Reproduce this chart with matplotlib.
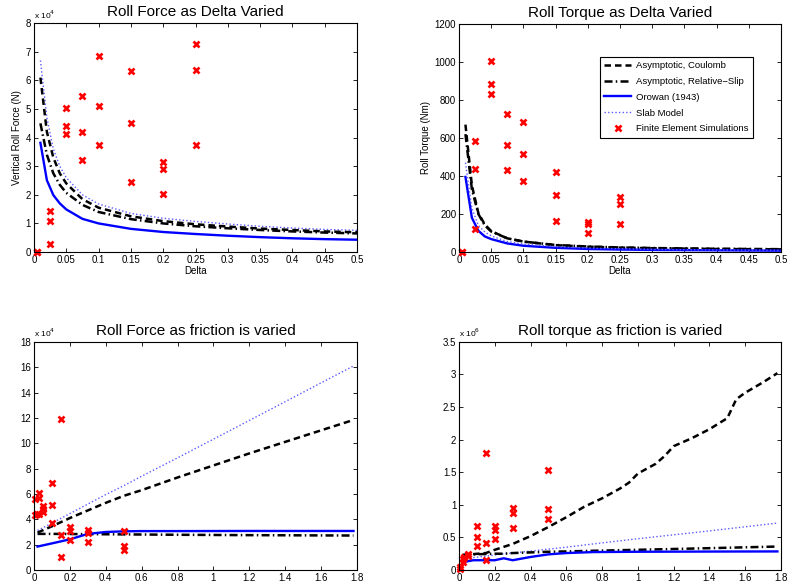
import matplotlib
matplotlib.use("Agg")
import matplotlib.pyplot as plt
from matplotlib.ticker import FuncFormatter

plt.rcParams['font.family'] = ['Liberation Sans', 'DejaVu Sans']

# --- data: roll force / torque as delta varied ---
delta = [0.01, 0.02, 0.03, 0.04, 0.05, 0.075, 0.1, 0.15, 0.2, 0.25, 0.3, 0.35, 0.4, 0.45, 0.5]
force_coulomb = [6.1, 4.2, 3.3, 2.75, 2.4, 1.85, 1.55, 1.25, 1.08, 0.97, 0.89, 0.82, 0.77, 0.72, 0.69]
force_relslip = [4.5, 3.4, 2.75, 2.35, 2.07, 1.65, 1.4, 1.15, 1.0, 0.9, 0.83, 0.77, 0.72, 0.68, 0.65]
force_orowan = [3.82, 2.51, 1.99, 1.7, 1.49, 1.16, 1.0, 0.81, 0.7, 0.63, 0.57, 0.52, 0.48, 0.45, 0.43]
force_slab = [6.7, 4.7, 3.6, 3.0, 2.6, 2.0, 1.68, 1.35, 1.18, 1.07, 0.98, 0.9, 0.84, 0.79, 0.76]

torque_coulomb = [670, 350, 205, 145, 110, 72, 55, 36, 28, 23, 20, 18, 16, 15, 14]
torque_relslip = [620, 330, 200, 140, 108, 72, 55, 37, 29, 24, 21, 19, 17, 16, 15]
torque_orowan = [395, 180, 112, 82, 68, 45, 33, 22, 16, 13, 11, 10, 9, 8, 7]
torque_slab = [470, 230, 140, 105, 85, 55, 42, 28, 21, 17, 14, 12, 11, 10, 9]

fe_delta = [0.005, 0.005, 0.025, 0.025, 0.025, 0.05, 0.05, 0.05, 0.075, 0.075, 0.075,
            0.1, 0.1, 0.1, 0.15, 0.15, 0.15, 0.2, 0.2, 0.2, 0.25, 0.25, 0.25]
fe_force_delta = [0, 0, 1.44, 1.08, 0.29, 5.02, 4.4, 4.14, 5.44, 4.21, 3.22,
                  6.85, 5.12, 3.73, 6.33, 4.5, 2.46, 3.15, 2.92, 2.03, 7.26, 6.38, 3.73]
fe_torque_delta = [0, 0, 584, 435, 119, 1007, 884, 833, 725, 563, 430,
                   686, 514, 374, 421, 302, 163, 158, 148, 100, 289, 253, 146]

# --- data: roll force / torque as friction varied ---
fric_bl = [0.02, 0.1, 0.2, 0.3, 0.4, 0.5, 0.6, 0.8, 1.2, 1.78]
fforce_coulomb = [2.95, 3.45, 4.1, 4.7, 5.3, 5.85, 6.3, 7.3, 9.2, 11.84]
fforce_relslip = [2.85, 2.85, 2.84, 2.83, 2.82, 2.81, 2.8, 2.78, 2.75, 2.72]
fforce_orowan = [1.85, 2.1, 2.42, 2.85, 3.0, 3.05, 3.07, 3.07, 3.08, 3.08]
fforce_slab = [3.12, 3.7, 4.45, 5.2, 5.95, 6.65, 7.4, 8.85, 11.8, 16.1]

fric_coul_t = [0.02, 0.15, 0.2, 0.3, 0.4, 0.5, 0.6, 0.7, 0.8, 0.9, 0.95, 1.0, 1.1,
               1.15, 1.2, 1.3, 1.4, 1.5, 1.55, 1.6, 1.7, 1.78]
ftorque_coulomb = [0.23, 0.26, 0.31, 0.4, 0.52, 0.66, 0.81, 0.97, 1.1, 1.25, 1.34, 1.48, 1.63,
                   1.75, 1.9, 2.02, 2.16, 2.33, 2.62, 2.72, 2.88, 3.02]
fric_t = [0.02, 0.08, 0.2, 0.25, 0.3, 0.4, 0.5, 0.6, 0.75, 1.0, 1.4, 1.78]
ftorque_relslip = [0.23, 0.24, 0.25, 0.25, 0.26, 0.27, 0.28, 0.285, 0.295, 0.31, 0.335, 0.36]
ftorque_orowan = [0.12, 0.15, 0.15, 0.18, 0.15, 0.2, 0.24, 0.26, 0.275, 0.28, 0.283, 0.285]
ftorque_slab = [0.17, 0.19, 0.23, 0.25, 0.26, 0.29, 0.32, 0.35, 0.4, 0.48, 0.6, 0.72]

fe_fric = [0.005, 0.005, 0.015, 0.03, 0.03, 0.03, 0.05, 0.05, 0.05, 0.1, 0.1, 0.1,
           0.15, 0.15, 0.15, 0.2, 0.2, 0.2, 0.3, 0.3, 0.3, 0.5, 0.5, 0.5]
fe_force_fric = [5.62, 4.35, 4.42, 6.05, 5.72, 4.45, 5.08, 4.85, 4.55, 6.85, 5.12, 3.72,
                 11.9, 2.8, 1.05, 3.4, 3.1, 2.38, 3.18, 2.95, 2.18, 3.07, 1.88, 1.58]
fe_fric_t = [0.005, 0.005, 0.025, 0.025, 0.03, 0.05, 0.05, 0.1, 0.1, 0.1, 0.15, 0.15, 0.15,
             0.2, 0.2, 0.2, 0.3, 0.3, 0.3, 0.5, 0.5, 0.5]
fe_torque_fric = [0.05, 0.02, 0.13, 0.17, 0.2, 0.25, 0.22, 0.68, 0.51, 0.37, 1.79, 0.42, 0.15,
                  0.68, 0.61, 0.47, 0.95, 0.88, 0.64, 1.54, 0.94, 0.79]

labels = ["Asymptotic, Coulomb", "Asymptotic, Relative\u2212Slip", "Orowan (1943)",
          "Slab Model", "Finite Element Simulations"]

# --- styles (MATLAB-ish) ---
st_coul = dict(color='black', lw=1.8, linestyle=(0, (2.6, 1.6)))
st_rel = dict(color='black', lw=1.8, linestyle=(0, (3.2, 1.3, 0.6, 1.3)))
st_oro = dict(color='#0000ff', lw=1.7, linestyle='-')
st_slab = dict(color='#5a5aff', lw=1.0, linestyle=(0, (1, 1.6)))
st_fe = dict(color='red', linestyle='none', marker='x', ms=4.5, mew=1.9)

fig = plt.figure(figsize=(7.88, 5.88), dpi=100)
ax_tl = fig.add_axes([0.0431, 0.5714, 0.41, 0.389])
ax_tr = fig.add_axes([0.5825, 0.5714, 0.4086, 0.388])
ax_bl = fig.add_axes([0.0431, 0.0306, 0.41, 0.388])
ax_br = fig.add_axes([0.5825, 0.0306, 0.4086, 0.388])

fmt = FuncFormatter(lambda v, p: "%g" % round(v, 6))


def style_axes(ax, title, xticks, yticks, xlim, ylim, scale=None):
    ax.set_xlim(*xlim)
    ax.set_ylim(*ylim)
    ax.set_xticks(xticks)
    ax.set_yticks(yticks)
    ax.xaxis.set_major_formatter(fmt)
    ax.yaxis.set_major_formatter(fmt)
    ax.tick_params(direction='in', length=3, width=0.6, labelsize=7, top=True, right=True, pad=2)
    for s in ax.spines.values():
        s.set_linewidth(0.8)
    ax.set_title(title, fontsize=11, pad=5)
    if scale:
        ax.text(0.0, 1.012, "x 10$^{%d}$" % scale, transform=ax.transAxes, fontsize=6,
                ha='left', va='bottom')


# top left: force vs delta (x 1e4 N)
ax_tl.plot(delta, force_slab, **st_slab)
ax_tl.plot(delta, force_coulomb, **st_coul)
ax_tl.plot(delta, force_relslip, **st_rel)
ax_tl.plot(delta, force_orowan, **st_oro)
ax_tl.plot(fe_delta, fe_force_delta, **st_fe)
style_axes(ax_tl, "Roll Force as Delta Varied", [i * 0.05 for i in range(11)], range(9),
           (0, 0.5), (0, 8), scale=4)
ax_tl.set_xlabel("Delta", fontsize=7, labelpad=1)
ax_tl.set_ylabel("Vertical Roll Force (N)", fontsize=7, labelpad=3)

# top right: torque vs delta
l1, = ax_tr.plot(delta, torque_coulomb, **st_coul)
l2, = ax_tr.plot(delta, torque_relslip, **st_rel)
l3, = ax_tr.plot(delta, torque_orowan, **st_oro)
l4, = ax_tr.plot(delta, torque_slab, **st_slab)
l5, = ax_tr.plot(fe_delta, fe_torque_delta, **st_fe)
style_axes(ax_tr, "Roll Torque as Delta Varied", [i * 0.05 for i in range(11)], range(0, 1201, 200),
           (0, 0.5), (0, 1200))
ax_tr.set_xlabel("Delta", fontsize=7, labelpad=1)
ax_tr.set_ylabel("Roll Torque (Nm)", fontsize=7, labelpad=3)
leg = ax_tr.legend([l1, l2, l3, l4, l5], labels, loc='upper right', bbox_to_anchor=(0.913, 0.855),
                   borderaxespad=0, fontsize=6.8, fancybox=False, edgecolor='black', framealpha=1,
                   handlelength=2.85, borderpad=0.45, labelspacing=0.72, handletextpad=0.55)
leg.get_frame().set_linewidth(0.8)

# bottom left: force vs friction (x 1e4)
ax_bl.plot(fric_bl, fforce_slab, **st_slab)
ax_bl.plot(fric_bl, fforce_coulomb, **st_coul)
ax_bl.plot(fric_bl, fforce_relslip, **st_rel)
ax_bl.plot(fric_bl, fforce_orowan, **st_oro)
ax_bl.plot(fe_fric, fe_force_fric, **st_fe)
style_axes(ax_bl, "Roll Force as friction is varied", [i * 0.2 for i in range(10)], range(0, 19, 2),
           (0, 1.8), (0, 18), scale=4)

# bottom right: torque vs friction (x 1e6)
ax_br.plot(fric_t, ftorque_slab, **st_slab)
ax_br.plot(fric_coul_t, ftorque_coulomb, **st_coul)
ax_br.plot(fric_t, ftorque_relslip, **st_rel)
ax_br.plot(fric_t, ftorque_orowan, **st_oro)
ax_br.plot(fe_fric_t, fe_torque_fric, **st_fe)
style_axes(ax_br, "Roll torque as friction is varied", [i * 0.2 for i in range(10)],
           [i * 0.5 for i in range(8)], (0, 1.8), (0, 3.5), scale=6)

# markers sitting on the axes edge should not be cut in half
for ax in (ax_tl, ax_tr, ax_bl, ax_br):
    for ln in ax.lines:
        if ln.get_marker() == 'x':
            ln.set_clip_on(False)

fig.savefig("out.png", dpi=100)
